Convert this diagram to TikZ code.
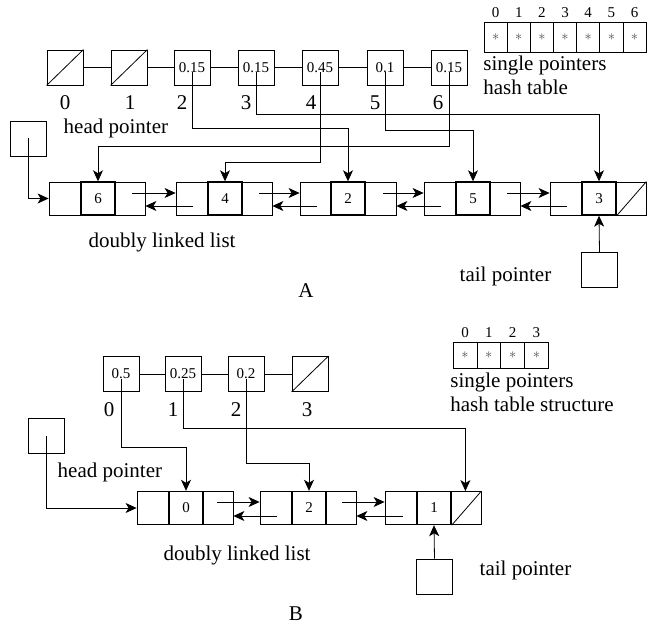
\documentclass[tikz,border=0pt]{standalone}
\usepackage{fontspec}
\setmainfont{Liberation Serif}
\usetikzlibrary{arrows.meta}

\begin{document}
\begin{tikzpicture}[x=1pt,y=-1pt,line width=.8pt,
  tbox/.style={draw,minimum width=36pt,minimum height=35pt,inner sep=0pt,font=\fontsize{15}{18}\selectfont},
  pbox/.style={draw,minimum width=36pt,minimum height=35pt,inner sep=0pt},
  lnode/.style={draw,minimum width=96pt,minimum height=33pt,inner sep=0pt},
  mcell/.style={draw,line width=1.4pt,minimum width=34pt,minimum height=33pt,inner sep=0pt,font=\fontsize{15}{18}\selectfont},
  hcell/.style={draw,minimum width=23.2pt,minimum height=30pt,inner sep=0pt,font=\fontsize{14}{16}\selectfont,text=black!70},
  lbl/.style={font=\fontsize{21}{24}\selectfont},
  idx/.style={font=\fontsize{15}{18}\selectfont},
  ptr/.style={-{Stealth[length=11pt,width=10pt,inset=3pt]}}]
\useasboundingbox (0,0) rectangle (649,626);

% A: top row
\node[tbox] (a0) at (65,67.5) {};
\node[tbox] (a1) at (129,67.5) {};
\node[tbox] (a2) at (192,67.5) {0.15};
\node[tbox] (a3) at (256,67.5) {0.15};
\node[tbox] (a4) at (320,67.5) {0.45};
\node[tbox] (a5) at (385,67.5) {0.1};
\node[tbox] (a6) at (449,67.5) {0.15};
\draw (a0.south west) -- (a0.north east);
\draw (a1.south west) -- (a1.north east);
\draw (a0) -- (a1) -- (a2) -- (a3) -- (a4) -- (a5) -- (a6);
\node[lbl] at (65,103) {0};
\node[lbl] at (130,103) {1};
\node[lbl] at (182,103) {2};
\node[lbl] at (246,103) {3};
\node[lbl] at (311,103) {4};
\node[lbl] at (375,103) {5};
\node[lbl] at (438,103) {6};
\node[lbl,anchor=west] at (60,128) {head pointer};

% A: hash table
\foreach \i in {0,...,6} {
  \node[hcell] (ha\i) at (495.6+23.15*\i,37) {$\ast$};
  \node[idx] at (ha\i |- 0,13) {\i};
}
\node[lbl,anchor=north west,align=left,inner sep=0pt] at (483,56) {single pointers\\hash table};

% A: doubly linked list
\node[lnode] (d1) at (97,198.5) {};
\node[lnode] (d2) at (224,198.5) {};
\node[lnode] (d3) at (348,198.5) {};
\node[lnode] (d4) at (472,198.5) {};
\node[lnode] (d5) at (598,198.5) {};
\node[mcell] (m1) at (98,198.5) {6};
\node[mcell] (m2) at (225,198.5) {4};
\node[mcell] (m3) at (348,198.5) {2};
\node[mcell] (m4) at (473,198.5) {5};
\node[mcell] (m5) at (599,198.5) {3};
\draw (m5.south east) -- (d5.north east);
\draw[ptr] ([xshift=35pt,yshift=5.5pt]d1.center) -- ([yshift=5.5pt]d2.west);
\draw[ptr] ([xshift=-31pt,yshift=-7.5pt]d2.center) -- ([yshift=-7.5pt]d1.east);
\draw[ptr] ([xshift=35pt,yshift=5.5pt]d2.center) -- ([yshift=5.5pt]d3.west);
\draw[ptr] ([xshift=-31pt,yshift=-7.5pt]d3.center) -- ([yshift=-7.5pt]d2.east);
\draw[ptr] ([xshift=35pt,yshift=5.5pt]d3.center) -- ([yshift=5.5pt]d4.west);
\draw[ptr] ([xshift=-31pt,yshift=-7.5pt]d4.center) -- ([yshift=-7.5pt]d3.east);
\draw[ptr] ([xshift=35pt,yshift=5.5pt]d4.center) -- ([yshift=5.5pt]d5.west);
\draw[ptr] ([xshift=-31pt,yshift=-7.5pt]d5.center) -- ([yshift=-7.5pt]d4.east);

% A: pointers
\draw[ptr] ([yshift=-5pt]a2.center) -- (a2 |- 0,128) -| (m3.north);
\draw[ptr] ([yshift=-5pt]a3.center) -- (a3 |- 0,114) -| (m5.north);
\draw[ptr] ([yshift=-5pt]a4.center) -- (a4 |- 0,162) -| (m2.north);
\draw[ptr] ([yshift=-5pt]a5.center) -- (a5 |- 0,130) -| (m4.north);
\draw[ptr] ([yshift=-5pt]a6.center) -- (a6 |- 0,146) -| (m1.north);
\node[pbox] (hA) at (28,138.5) {};
\draw[ptr] (hA.center) |- (d1.west);
\node[pbox] (tA) at (599.5,270) {};
\draw[ptr] (tA.north) -- (m5.south);
\node[lbl] at (162,242) {doubly linked list};
\node[lbl,anchor=west] at (456,276) {tail pointer};
\node[lbl] at (306,291) {A};

% B: top row
\node[tbox] (b0) at (121,374) {0.5};
\node[tbox] (b1) at (183,374) {0.25};
\node[tbox] (b2) at (246,374) {0.2};
\node[tbox] (b3) at (310,374) {};
\draw (b3.south west) -- (b3.north east);
\draw (b0) -- (b1) -- (b2) -- (b3);
\node[lbl] at (109,410) {0};
\node[lbl] at (173,410) {1};
\node[lbl] at (236,410) {2};
\node[lbl] at (307,410) {3};

% B: hash table
\foreach \i in {0,...,3} {
  \node[hcell,minimum width=23.8pt,minimum height=26pt] (hb\i) at (465+23.8*\i,355) {$\ast$};
  \node[idx] at (hb\i |- 0,333) {\i};
}
\node[lbl,anchor=north west,align=left,inner sep=0pt] at (450,373) {single pointers\\hash table structure};

% B: doubly linked list
\node[lnode] (e1) at (185,508) {};
\node[lnode] (e2) at (308,508) {};
\node[lnode] (e3) at (433,508) {};
\node[mcell] (f1) at (186,508) {0};
\node[mcell] (f2) at (309,508) {2};
\node[mcell] (f3) at (434,508) {1};
\draw (f3.south east) -- (e3.north east);
\draw[ptr] ([xshift=32pt,yshift=6pt]e1.center) -- ([yshift=6pt]e2.west);
\draw[ptr] ([xshift=-31pt,yshift=-8pt]e2.center) -- ([yshift=-8pt]e1.east);
\draw[ptr] ([xshift=34pt,yshift=6pt]e2.center) -- ([yshift=6pt]e3.west);
\draw[ptr] ([xshift=-30pt,yshift=-8pt]e3.center) -- ([yshift=-8pt]e2.east);

% B: pointers
\coordinate (r3) at ([xshift=-16pt]e3.north east);
\draw[ptr] ([yshift=-5pt]b0.center) -- (b0 |- 0,447) -| (f1.north);
\draw[ptr] ([yshift=-5pt]b1.center) -- (b1 |- 0,428) -| (r3);
\draw[ptr] ([yshift=-5pt]b2.center) -- (b2 |- 0,463) -| (f2.north);
\node[pbox] (hB) at (46,435.5) {};
\draw[ptr] (hB.center) |- (e1.west);
\node[pbox] (tB) at (434.5,576.5) {};
\draw[ptr] (tB.north) -- (f3.south);
\node[lbl,anchor=west] at (54,472) {head pointer};
\node[lbl] at (237,555) {doubly linked list};
\node[lbl,anchor=west] at (476,570) {tail pointer};
\node[lbl] at (296,614) {B};
\end{tikzpicture}
\end{document}
